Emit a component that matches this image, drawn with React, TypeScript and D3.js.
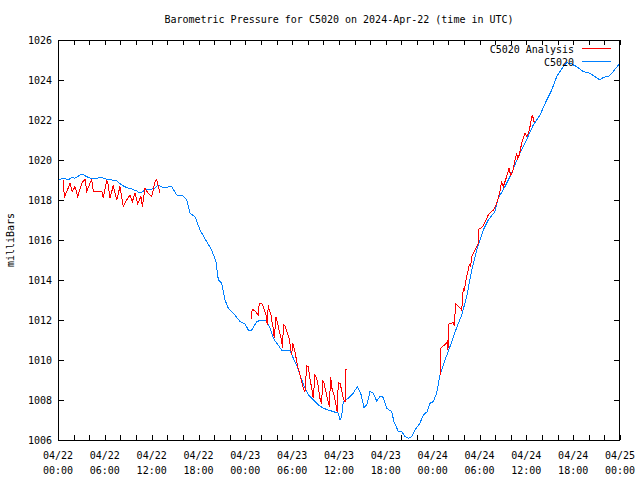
import React from "react";
import * as d3 from "d3";

const title = "Barometric Pressure for C5020 on 2024-Apr-22 (time in UTC)";
const yLabel = "milliBars";
const yTicks = [1006, 1008, 1010, 1012, 1014, 1016, 1018, 1020, 1022, 1024, 1026];
const xTickHours = [0, 6, 12, 18, 24, 30, 36, 42, 48, 54, 60, 66, 72];
const xTickDates = ["04/22", "04/22", "04/22", "04/22", "04/23", "04/23", "04/23", "04/23", "04/24", "04/24", "04/24", "04/24", "04/25"];
const xTickTimes = ["00:00", "06:00", "12:00", "18:00", "00:00", "06:00", "12:00", "18:00", "00:00", "06:00", "12:00", "18:00", "00:00"];
const seriesNames = ["C5020 Analysis", "C5020"];

// Observed station pressure (hours since 04/22 00:00 UTC, mbar)
const obsHours = [
  0.0, 0.26, 0.9, 1.28, 1.76, 2.18, 3.04, 3.68, 4.32, 4.96, 5.6, 6.24, 6.88, 7.52, 8.16, 8.8, 9.44, 10.08, 10.5, 11.15,
  12.0, 12.43, 12.85, 13.49, 14.57, 15.21, 16.05, 16.49, 16.91, 17.55, 18.19, 19.05, 19.69, 20.24, 20.54, 20.97, 21.4, 21.82, 22.46, 23.32,
  23.96, 24.38, 24.81, 25.46, 26.1, 26.74, 27.16, 27.58, 28.02, 28.66, 29.72, 30.14, 30.58, 31.0, 31.64, 32.07, 32.71, 33.35, 33.99, 34.63,
  35.27, 35.91, 36.13, 36.34, 36.55, 37.19, 37.83, 38.34, 38.78, 39.2, 39.55, 39.97, 40.39, 40.83, 41.25, 41.6, 42.11, 42.75, 43.04, 43.6,
  44.03, 44.45, 44.88, 45.31, 45.73, 46.37, 46.8, 47.31, 47.66, 48.08, 48.51, 48.94, 49.58, 50.22, 50.86, 51.72, 52.36, 53.0, 53.64, 54.48,
  55.12, 55.98, 56.41, 57.26, 58.12, 58.97, 59.83, 60.89, 61.75, 62.61, 63.25, 63.89, 64.73, 65.17, 65.81, 66.45, 67.3, 68.15, 68.79, 69.43,
  69.86, 70.5, 71.14, 71.78, 72.0,
];
const obsValues = [
  1019.03, 1019.04, 1019.09, 1019.0, 1019.12, 1019.09, 1019.3, 1019.17, 1019.05, 1019.09, 1019.12, 1019.04, 1019.0, 1018.95, 1018.75, 1018.62, 1018.55, 1018.45, 1018.34, 1018.5,
  1018.55, 1018.59, 1018.75, 1018.62, 1018.67, 1018.25, 1018.2, 1018.0, 1017.34, 1017.17, 1016.5, 1015.92, 1015.5, 1014.92, 1014.0, 1013.84, 1013.0, 1012.59, 1012.34, 1011.92,
  1011.8, 1011.5, 1011.5, 1011.92, 1012.0, 1011.95, 1011.59, 1011.09, 1010.84, 1010.5, 1010.5, 1010.09, 1009.75, 1009.25, 1008.59, 1008.25, 1008.0, 1007.75, 1007.59, 1007.5,
  1007.42, 1007.34, 1007.0, 1007.17, 1007.92, 1008.09, 1008.34, 1008.67, 1008.34, 1007.62, 1007.75, 1008.42, 1008.34, 1007.95, 1008.17, 1008.17, 1007.59, 1007.42, 1006.92, 1006.42,
  1006.42, 1006.17, 1006.09, 1006.17, 1006.5, 1006.84, 1007.25, 1007.42, 1007.84, 1007.92, 1008.34, 1009.25, 1010.0, 1010.67, 1011.4, 1012.25, 1013.17, 1014.5, 1015.5, 1016.5,
  1017.0, 1017.42, 1018.09, 1018.67, 1019.34, 1020.17, 1020.84, 1021.75, 1022.25, 1023.0, 1023.5, 1024.17, 1024.67, 1024.87, 1024.8, 1024.67, 1024.42, 1024.34, 1024.17, 1024.0,
  1024.14, 1024.17, 1024.42, 1024.75, 1024.65,
];

// Analysis series (NaN separates the three runs)
const anaHours = [
  0.68, 0.81, 1.54, 1.83, 2.18, 2.52, 3.04, 3.46, 3.68, 4.1, 4.32, 4.52, 5.16, 5.6, 5.8, 6.24, 6.44, 6.66, 7.08, 7.52,
  7.94, 8.37, 8.8, 9.22, 9.52, 9.86, 10.21, 10.63, 10.8, 11.15, 11.57, 12.0, 12.43, 12.64, 12.85, 13.07,
  NaN,
  24.72, 24.89, 25.24, 25.66, 25.79, 26.1, 26.52, 26.65, 26.81, 26.94, 27.07, 27.25, 27.38, 27.58, 27.71, 27.93, 28.09, 28.31, 28.53, 28.79,
  28.86, 29.08, 29.3, 29.63, 29.81, 29.94, 30.07, 30.36, 30.66, 31.0, 31.22, 31.42, 31.64, 31.86, 32.07, 32.28, 32.5, 32.71, 32.92, 33.14,
  33.35, 33.56, 33.78, 33.91, 34.08, 34.33, 34.55, 34.76, 34.93, 35.1, 35.36, 35.61, 35.78, 35.91, 36.13, 36.34, 36.55, 36.77, 36.89, 37.06,
  NaN,
  48.94, 49.03, 49.04, 49.71, 49.87, 49.96, 50.05, 50.64, 50.82, 50.9, 51.41, 51.72, 51.92, 52.05, 52.36, 52.69, 52.87, 53.0, 53.42, 53.84,
  53.9, 54.41, 54.92, 55.12, 55.56, 55.85, 56.2, 56.62, 56.84, 57.05, 57.48, 57.78, 57.99, 58.25, 58.55, 58.76, 58.89, 59.1, 59.4, 59.83,
  60.05, 60.27, 60.47, 60.69, 60.81, 60.98, 61.15,
];
const anaValues = [
  1019.0, 1018.12, 1018.83, 1018.42, 1018.67, 1018.17, 1018.83, 1019.05, 1018.42, 1018.83, 1019.0, 1018.45, 1018.42, 1018.45, 1018.08, 1019.0, 1018.75, 1018.08, 1018.72, 1018.0,
  1018.67, 1017.67, 1018.0, 1018.25, 1017.92, 1018.33, 1017.83, 1018.17, 1017.67, 1018.58, 1018.33, 1018.17, 1018.92, 1019.0, 1018.67, 1018.33,
  NaN,
  1012.05, 1012.55, 1012.45, 1012.25, 1012.85, 1012.85, 1012.42, 1012.25, 1011.75, 1012.75, 1012.5, 1012.33, 1012.0, 1011.58, 1011.08, 1012.17, 1011.92, 1011.5, 1011.17, 1010.58,
  1011.78, 1011.72, 1011.42, 1011.08, 1010.58, 1010.25, 1010.83, 1010.42, 1009.75, 1009.25, 1008.92, 1008.58, 1008.42, 1009.72, 1009.67, 1009.08, 1008.58, 1008.08, 1009.25, 1009.08,
  1008.67, 1008.08, 1007.83, 1009.0, 1008.83, 1008.42, 1008.0, 1007.67, 1009.17, 1008.58, 1008.25, 1007.75, 1007.38, 1008.88, 1008.83, 1008.5, 1008.08, 1007.92, 1009.55, 1009.55,
  NaN,
  1009.25, 1009.92, 1010.58, 1010.83, 1010.92, 1010.5, 1011.8, 1011.87, 1011.7, 1012.83, 1012.63, 1012.5, 1013.58, 1013.5, 1014.17, 1014.75, 1014.67, 1015.17, 1015.5, 1015.83,
  1016.53, 1016.67, 1017.08, 1017.25, 1017.42, 1017.53, 1017.83, 1018.42, 1018.92, 1018.67, 1019.17, 1019.58, 1019.25, 1019.42, 1020.0, 1020.33, 1020.08, 1020.25, 1020.83, 1021.33,
  1021.17, 1021.33, 1021.67, 1022.17, 1022.2, 1021.92, 1021.92,
];

const W = 640, H = 480;
const L = 58, R = 620, T = 40, B = 440;
const FONT = "'DejaVu Sans Mono', 'Liberation Mono', monospace";
const RED = "#ff0000";
const BLUE = "#0080ff";

export default function App() {
  const x = d3.scaleLinear().domain([0, 72]).range([L, R]);
  const y = d3.scaleLinear().domain([1006, 1026]).range([B, T]);

  const obs = obsHours.map((h, i) => [h, obsValues[i]] as [number, number]);
  const ana = anaHours.map((h, i) => [h, anaValues[i]] as [number, number]);

  const line = d3
    .line<[number, number]>()
    .defined((d) => !isNaN(d[0]) && !isNaN(d[1]))
    .x((d) => x(d[0]))
    .y((d) => y(d[1]));

  const minorX = d3.range(0, 73, 2);

  return (
    <svg width={W} height={H} style={{ position: "absolute", left: 0, top: 0, background: "#fff" }} fontFamily={FONT} fontSize={10}>
      <rect x={0} y={0} width={W} height={H} fill="#fff" />
      <text x={(L + R) / 2} y={23} textAnchor="middle">{title}</text>

      {/* y ticks */}
      {yTicks.map((v) => (
        <g key={"y" + v} shapeRendering="crispEdges">
          <line x1={L} x2={L + 6} y1={Math.round(y(v)) + 0.5} y2={Math.round(y(v)) + 0.5} stroke="#000" />
          <line x1={R - 6} x2={R} y1={Math.round(y(v)) + 0.5} y2={Math.round(y(v)) + 0.5} stroke="#000" />
          <text x={L - 6} y={y(v) + 4} textAnchor="end" shapeRendering="auto">{v}</text>
        </g>
      ))}

      {/* x ticks */}
      {minorX.map((h) => (
        <g key={"x" + h} shapeRendering="crispEdges">
          <line x1={Math.round(x(h)) + 0.5} x2={Math.round(x(h)) + 0.5} y1={B} y2={B - 5} stroke="#000" />
          <line x1={Math.round(x(h)) + 0.5} x2={Math.round(x(h)) + 0.5} y1={T} y2={T + 5} stroke="#000" />
        </g>
      ))}
      {xTickHours.map((h, i) => (
        <g key={"xl" + h}>
          <text x={x(h)} y={459} textAnchor="middle">{xTickDates[i]}</text>
          <text x={x(h)} y={474} textAnchor="middle">{xTickTimes[i]}</text>
        </g>
      ))}

      <text transform={`translate(14,${(T + B) / 2}) rotate(-90)`} textAnchor="middle">{yLabel}</text>

      {/* series */}
      <path d={line(obs) || ""} fill="none" stroke={BLUE} strokeWidth={1} shapeRendering="crispEdges" />
      <path d={line(ana) || ""} fill="none" stroke={RED} strokeWidth={1} shapeRendering="crispEdges" />

      {/* legend */}
      <text x={574} y={53} textAnchor="end">{seriesNames[0]}</text>
      <line x1={582} x2={611} y1={48.5} y2={48.5} stroke={RED} shapeRendering="crispEdges" />
      <text x={574} y={66} textAnchor="end">{seriesNames[1]}</text>
      <line x1={582} x2={611} y1={61.5} y2={61.5} stroke={BLUE} shapeRendering="crispEdges" />

      <rect x={L + 0.5} y={T + 0.5} width={R - L - 1} height={B - T} fill="none" stroke="#000" shapeRendering="crispEdges" />
    </svg>
  );
}
